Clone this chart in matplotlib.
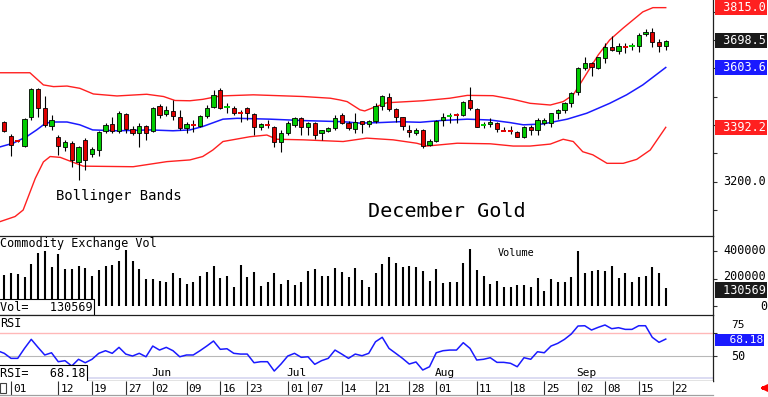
import matplotlib.pyplot as plt
from matplotlib.patches import Rectangle

# trading-day index: 0 = May 01, 97 = Sep 19
days = list(range(-1, 98))

opens = [3411, 3362, 3345, 3326, 3429, 3528, 3461, 3397, 3358, 3323,
         3337, 3270, 3348, 3298, 3312, 3379, 3404, 3379, 3440, 3387,
         3372, 3397, 3379, 3468, 3440, 3451, 3430, 3390, 3404, 3398,
         3433, 3463, 3524, 3461, 3462, 3445, 3460, 3440, 3395, 3404,
         3395, 3342, 3371, 3401, 3424, 3395, 3407, 3372, 3379, 3389,
         3434, 3409, 3387, 3413, 3403, 3413, 3468, 3501, 3456, 3428,
         3381, 3371, 3383, 3328, 3345, 3418, 3431, 3437, 3436, 3489,
         3456, 3397, 3404, 3408, 3382, 3381, 3377, 3359, 3393, 3383,
         3409, 3409, 3444, 3454, 3477, 3518, 3601, 3621, 3601, 3636,
         3677, 3663, 3680, 3677, 3680, 3722, 3728, 3693, 3681]
highs = [3415, 3369, 3346, 3425, 3531, 3531, 3503, 3436, 3365, 3348,
         3344, 3326, 3355, 3323, 3379, 3408, 3429, 3450, 3443, 3397,
         3408, 3401, 3464, 3475, 3468, 3489, 3454, 3412, 3418, 3436,
         3471, 3524, 3531, 3478, 3468, 3454, 3465, 3442, 3409, 3418,
         3397, 3383, 3415, 3430, 3430, 3411, 3411, 3383, 3394, 3436,
         3444, 3413, 3442, 3415, 3418, 3477, 3507, 3513, 3460, 3430,
         3401, 3390, 3385, 3350, 3418, 3444, 3442, 3442, 3485, 3536,
         3460, 3412, 3424, 3410, 3394, 3397, 3379, 3397, 3401, 3424,
         3424, 3444, 3456, 3483, 3518, 3605, 3640, 3624, 3642, 3689,
         3715, 3689, 3691, 3689, 3727, 3739, 3742, 3703, 3701]
lows = [3376, 3291, 3341, 3323, 3418, 3429, 3394, 3383, 3295, 3309,
        3252, 3206, 3242, 3288, 3291, 3372, 3372, 3372, 3372, 3365,
        3323, 3348, 3376, 3425, 3433, 3418, 3383, 3371, 3377, 3394,
        3425, 3461, 3457, 3444, 3436, 3412, 3418, 3365, 3381, 3389,
        3322, 3306, 3365, 3395, 3365, 3365, 3351, 3348, 3376, 3383,
        3404, 3383, 3371, 3371, 3394, 3409, 3454, 3451, 3412, 3383,
        3357, 3365, 3318, 3325, 3341, 3397, 3407, 3407, 3432, 3454,
        3393, 3389, 3395, 3375, 3378, 3369, 3357, 3354, 3365, 3365,
        3401, 3395, 3421, 3443, 3465, 3507, 3593, 3574, 3597, 3619,
        3663, 3652, 3654, 3666, 3660, 3715, 3677, 3660, 3666]
closes = [3379, 3330, 3343, 3422, 3528, 3461, 3401, 3418, 3326, 3341,
          3277, 3323, 3277, 3316, 3376, 3401, 3379, 3443, 3387, 3372,
          3397, 3372, 3461, 3436, 3454, 3433, 3389, 3404, 3402, 3433,
          3461, 3507, 3460, 3463, 3442, 3443, 3442, 3395, 3403, 3402,
          3342, 3371, 3409, 3424, 3395, 3407, 3365, 3381, 3389, 3424,
          3408, 3390, 3410, 3404, 3413, 3468, 3503, 3456, 3430, 3397,
          3374, 3383, 3326, 3344, 3416, 3430, 3433, 3435, 3483, 3460,
          3395, 3399, 3410, 3386, 3380, 3379, 3359, 3393, 3383, 3418,
          3418, 3442, 3454, 3477, 3515, 3601, 3621, 3605, 3640, 3677,
          3666, 3680, 3677, 3680, 3719, 3730, 3695, 3680, 3698.5]

volume = [225000, 238000, 233000, 208000, 305000, 388000, 400000, 286000, 378000, 267000,
          267000, 291000, 274000, 218000, 262000, 291000, 296000, 330000, 407000, 327000,
          267000, 196000, 194000, 184000, 177000, 242000, 201000, 158000, 172000, 218000,
          245000, 291000, 201000, 221000, 136000, 298000, 208000, 247000, 145000, 172000,
          238000, 158000, 189000, 153000, 172000, 257000, 269000, 218000, 221000, 279000,
          250000, 213000, 274000, 189000, 136000, 242000, 305000, 359000, 310000, 281000,
          291000, 286000, 255000, 184000, 267000, 165000, 177000, 177000, 310000, 412000,
          262000, 218000, 160000, 182000, 136000, 136000, 153000, 153000, 136000, 201000,
          112000, 194000, 175000, 175000, 208000, 402000, 242000, 255000, 262000, 257000,
          291000, 201000, 238000, 172000, 208000, 218000, 281000, 242000, 130569]

rsi_days = list(range(-2, 98))
rsi = [55.7, 52.9, 47.5, 47.5, 58.2, 67.9, 59.3, 51.1, 53.5, 43.9,
       45.0, 39.3, 46.5, 42.8, 46.5, 52.9, 55.7, 52.9, 59.3, 52.1,
       50.0, 52.9, 49.2, 60.7, 56.4, 59.3, 55.7, 49.2, 51.1, 51.1,
       55.7, 60.7, 66.1, 57.2, 57.8, 52.9, 52.1, 52.1, 42.8, 43.9,
       43.9, 33.9, 41.4, 50.0, 52.9, 48.6, 49.2, 41.1, 45.0, 47.5,
       56.4, 52.1, 47.5, 52.1, 50.3, 52.9, 65.3, 70.1, 58.2, 52.9,
       47.5, 41.4, 43.6, 35.0, 38.5, 53.5, 55.7, 56.4, 56.4, 64.3,
       58.2, 45.7, 46.5, 48.2, 43.2, 43.2, 42.2, 38.5, 48.2, 46.5,
       54.6, 53.5, 60.7, 63.6, 67.9, 73.6, 82.2, 82.5, 77.9, 80.8,
       83.3, 79.3, 80.4, 78.6, 78.6, 82.5, 82.5, 70.1, 64.7, 68.18]

upper_days = [-1.63, 2.8, 4.8, 6.3, 8.3, 10.2, 12.2, 15.7, 20.1, 22.6, 24.3, 26.5,
              28.4, 31.0, 35.9, 43.3, 47.3, 48.7, 49.8, 51.7, 52.4, 53.9, 55.7,
              61.0, 65.0, 67.6, 71.4, 74.4, 76.9, 79.9, 81.8, 83.3, 84.7, 87.0,
              88.7, 90.7, 93.6, 95.1, 97.0]
upper = [3585, 3585, 3542, 3536, 3538, 3530, 3510, 3503, 3509, 3501, 3487, 3486,
         3491, 3503, 3507, 3501, 3495, 3489, 3483, 3454, 3450, 3464, 3479,
         3486, 3495, 3505, 3504, 3491, 3477, 3471, 3483, 3507, 3560, 3648,
         3701, 3743, 3800, 3815, 3815.0]

mid_days = [-1.63, 0.3, 2.3, 3.8, 4.8, 5.8, 8.3, 10.2, 12.1, 15.7, 20.6, 24.0,
            26.5, 28.4, 31.4, 33.5, 38.4, 43.3, 49.2, 51.7, 54.7, 57.6, 60.6,
            63.6, 67.6, 71.0, 73.9, 75.9, 78.8, 82.4, 85.3, 88.7, 91.2, 93.6, 97.0]
mid = [3323, 3336, 3359, 3383, 3401, 3411, 3411, 3401, 3383, 3380, 3383, 3380,
       3383, 3395, 3421, 3424, 3421, 3416, 3412, 3407, 3409, 3412, 3410,
       3416, 3421, 3418, 3409, 3401, 3404, 3421, 3442, 3477, 3507, 3542, 3603.6]

lower_days = [-1.63, 0.6, 1.8, 3.6, 4.8, 5.8, 7.3, 10.7, 18.1, 23.1, 26.5, 28.4,
              29.9, 31.4, 35.4, 37.9, 39.4, 43.3, 49.2, 52.7, 56.6, 60.1, 61.6,
              66.1, 71.0, 74.4, 76.9, 79.9, 81.8, 83.3, 84.7, 86.2, 88.3, 90.7,
              92.7, 94.7, 97.0]
lower = [3059, 3077, 3100, 3212, 3270, 3289, 3286, 3255, 3253, 3271, 3277, 3289,
         3312, 3342, 3359, 3365, 3350, 3348, 3342, 3354, 3348, 3336, 3326,
         3336, 3334, 3326, 3326, 3333, 3350, 3342, 3306, 3295, 3265, 3265,
         3279, 3312, 3392.2]

tick_days = [0, 7, 12, 17, 21, 26, 31, 35, 41, 44, 49, 54, 59, 63, 69, 74, 79,
             84, 88, 93, 98]
tick_labels = ["01", "12", "19", "27", "02", "09", "16", "23", "01", "07", "14",
               "21", "28", "01", "11", "18", "25", "02", "08", "15", "22"]
month_days = [21, 41, 63, 84]
month_labels = ["Jun", "Jul", "Aug", "Sep"]

GREEN = "#00cc00"
RED = "#e00000"
BAND_RED = "#ff2020"
BLUE = "#1a1aff"
MONO = "DejaVu Sans Mono"


def style_axes(a, top=False, bottom=False):
    a.spines["left"].set_visible(False)
    a.spines["top"].set_visible(top)
    a.spines["bottom"].set_visible(bottom)
    for s in a.spines.values():
        s.set_color("#202020")
        s.set_linewidth(0.9)
    a.set_xlim(-1.63, 104.0)
    a.tick_params(axis="x", bottom=False, labelbottom=False)
    a.yaxis.tick_right()
    a.tick_params(axis="y", direction="out", length=3, width=0.8,
                  labelright=False, colors="#303030")


def side_label(a, value, text, x_px, bg=None, fg="black", size=8.5):
    kw = dict(transform=a.get_yaxis_transform(), va="center", ha="left",
              family=MONO, fontsize=size, color=fg, clip_on=False)
    if bg:
        kw["bbox"] = dict(boxstyle="square,pad=0.1", fc=bg, ec="none")
    a.text(1 + x_px / 713, value, text, **kw)


def main():
    fig = plt.figure(figsize=(7.68, 3.97), dpi=100)
    w = 713 / 768
    ax = fig.add_axes([0, 0.4068, w, 0.5932])
    axv = fig.add_axes([0, 0.2065, w, 0.2003])
    axr = fig.add_axes([0, 0.0403, w, 0.1662])
    axd = fig.add_axes([0, 0.005, w, 0.0353])

    # price panel
    style_axes(ax)
    ax.set_ylim(3010, 3842)
    ax.set_yticks(range(3100, 3900, 100))
    ax.plot(upper_days, upper, color=BAND_RED, lw=1.0)
    ax.plot(lower_days, lower, color=BAND_RED, lw=1.0)
    ax.plot(mid_days, mid, color=BLUE, lw=1.1)

    ax.vlines(days, lows, highs, color="black", lw=0.8, zorder=3)
    bx, bb, bh, bc = [], [], [], []
    for d, o, c in zip(days, opens, closes):
        col = GREEN if c > o else RED
        if abs(c - o) <= 3:
            ax.hlines(c, d - 0.4, d + 0.4, color=col, lw=1.4, zorder=4)
        else:
            bx.append(d)
            bb.append(min(o, c))
            bh.append(abs(c - o))
            bc.append(col)
    ax.bar(bx, bh, bottom=bb, width=0.62, color=bc, edgecolor="black",
           linewidth=0.6, zorder=4)

    side_label(ax, upper[-1], " %.1f" % upper[-1], 3, bg=BAND_RED, fg="white")
    side_label(ax, closes[-1], " %.1f" % closes[-1], 3, bg="#1a1a1a", fg="white")
    side_label(ax, mid[-1], " %.1f" % mid[-1], 3, bg=BLUE, fg="white")
    side_label(ax, lower[-1], " %.1f" % lower[-1], 3, bg=BAND_RED, fg="white")
    side_label(ax, 3200, "3200.0", 10)

    ax.text(0.0785, 0.168, "Bollinger Bands", transform=ax.transAxes,
            family=MONO, fontsize=10, va="center", ha="left")
    ax.text(0.516, 0.10, "December Gold", transform=ax.transAxes,
            family=MONO, fontsize=14.5, va="center", ha="left")

    # volume panel
    style_axes(axv, top=True)
    axv.set_ylim(-65500, 512700)
    axv.set_yticks([0, 200000, 400000])
    axv.vlines(days, 0, volume, color="black", lw=1.5)
    side_label(axv, 400000, "400000", 10)
    side_label(axv, 214000, "200000", 10)
    side_label(axv, 0, "0", 47)
    side_label(axv, volume[-1] - 15000, " %d" % volume[-1], 3, bg="#1a1a1a",
               fg="white")
    axv.text(0.0, 0.975, "Commodity Exchange Vol", transform=axv.transAxes,
             family=MONO, fontsize=8.5, va="top", ha="left")
    axv.text(0.698, 0.78, "Volume", transform=axv.transAxes,
             family=MONO, fontsize=7.3, va="center", ha="left")
    axv.text(0.0, 0.10, "Vol=   %d" % volume[-1], transform=axv.transAxes,
             family=MONO, fontsize=8.5, va="center", ha="left", zorder=6,
             bbox=dict(boxstyle="square,pad=0.15", fc="white", ec="black",
                       lw=0.8))

    # RSI panel
    style_axes(axr, top=True, bottom=True)
    axr.set_ylim(23.2, 94.0)
    axr.set_yticks([50, 75])
    axr.add_patch(Rectangle((0, 0.026), 1, 0.04, transform=axr.transAxes,
                            color="#dcdcf2", lw=0, zorder=0))
    axr.axhline(75, color="#ffb8b8", lw=1.0, zorder=1)
    axr.axhline(50, color="#b8b8b8", lw=0.8, zorder=1)
    axr.plot(rsi_days, rsi, color=BLUE, lw=1.1, zorder=3)
    side_label(axr, 83.5, "75", 18, size=8)
    side_label(axr, 50, "50", 18)
    side_label(axr, rsi[-1] - 1, "  %.2f" % rsi[-1], 3, bg=BLUE, fg="white",
               size=8)
    axr.text(0.0, 0.97, "RSI", transform=axr.transAxes, family=MONO,
             fontsize=8.5, va="top", ha="left")
    axr.text(0.0, 0.114, "RSI=   %.2f" % rsi[-1], transform=axr.transAxes,
             family=MONO, fontsize=8.5, va="center", ha="left", zorder=6,
             bbox=dict(boxstyle="square,pad=0.15", fc="white", ec="black",
                       lw=0.8))
    for d, m in zip(month_days, month_labels):
        axr.text(d - 0.2, 0.12, m, transform=axr.get_xaxis_transform(),
                 family=MONO, fontsize=8, va="center", ha="left")

    # date strip
    style_axes(axd, bottom=True)
    axd.spines["right"].set_visible(False)
    axd.spines["bottom"].set_color("#a0a0a0")
    axd.set_ylim(0, 1)
    axd.set_yticks([])
    axd.vlines(tick_days, 0, 1, color="#303030", lw=0.8)
    for d, lab in zip(tick_days, tick_labels):
        axd.text(d + 0.3, 0.45, lab, family=MONO, fontsize=8, va="center",
                 ha="left")
    axd.add_patch(Rectangle((0.0, 0.15), 6 / 713, 0.7, transform=axd.transAxes,
                            fc="white", ec="#404040", lw=0.8))

    axd.annotate("", xy=(757, 9), xytext=(768, 9), xycoords="figure pixels",
                 textcoords="figure pixels", annotation_clip=False,
                 arrowprops=dict(arrowstyle="-|>", color="red", lw=2.5,
                                 mutation_scale=8))

    fig.savefig("out.png", dpi=100)


if __name__ == "__main__":
    main()
